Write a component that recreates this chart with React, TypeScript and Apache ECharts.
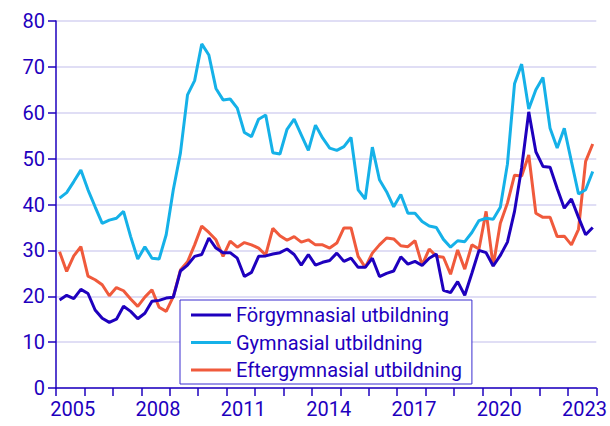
import React, { useEffect, useRef } from "react";
import * as echarts from "echarts";

const years = ["2005","2006","2007","2008","2009","2010","2011","2012","2013","2014","2015","2016","2017","2018","2019","2020","2021","2022","2023"];
const quarters: string[] = years.flatMap((y) => ["K1", "K2", "K3", "K4"].map((q) => y + q));

const forgymnasial = [
  19.2, 20.2, 19.5, 21.5, 20.6, 17.0, 15.2, 14.3, 15.0, 17.8, 16.7, 15.1, 16.3,
  18.9, 19.1, 19.6, 19.8, 25.5, 26.8, 28.7, 29.1, 32.7, 30.5, 29.5, 29.5, 28.3,
  24.3, 25.2, 28.7, 28.8, 29.2, 29.5, 30.3, 29.1, 26.8, 29.1, 26.8, 27.4,
  27.8, 29.4, 27.6, 28.3, 26.3, 26.3, 28.3, 24.3, 25.0, 25.5, 28.6, 27.0, 27.6,
  26.7, 28.3, 29.2, 21.3, 20.8, 23.2, 20.2, 25.0, 30.0, 29.5, 26.6, 28.9,
  31.8, 38.5, 48.0, 60.2, 51.5, 48.3, 48.1, 43.5, 39.2, 41.2, 37.2, 33.4, 35.0,
];
const gymnasial = [
  41.4, 42.6, 45.0, 47.5, 43.2, 39.5, 35.9, 36.6, 37.0, 38.5, 33.0, 28.1, 30.8,
  28.3, 28.1, 33.4, 43.2, 51.2, 63.9, 67.0, 75.0, 72.6, 65.3, 62.8, 63.0, 61.0,
  55.7, 54.8, 58.6, 59.5, 51.3, 51.0, 56.4, 58.6, 55.2, 51.8, 57.3, 54.5,
  52.3, 51.8, 52.6, 54.6, 43.2, 41.2, 52.5, 45.4, 42.8, 39.5, 42.2, 38.1, 38.1,
  36.3, 35.3, 35.0, 32.4, 30.7, 32.1, 31.9, 33.9, 36.5, 37.0, 36.8, 39.4,
  48.8, 66.3, 70.6, 60.8, 65.0, 67.7, 56.6, 52.3, 56.6, 49.4, 42.3, 43.2, 47.2,
];
const eftergymnasial = [
  29.7, 25.4, 28.8, 30.8, 24.4, 23.6, 22.5, 20.1, 21.9, 21.2, 19.4, 17.8, 19.8,
  21.4, 17.6, 16.7, 19.9, 25.7, 27.5, 31.2, 35.3, 33.9, 32.3, 28.7, 32.0, 30.7,
  31.7, 31.2, 30.5, 29.0, 34.8, 33.2, 32.2, 33.0, 31.8, 32.3, 31.2, 31.2,
  30.5, 31.6, 34.9, 34.9, 28.7, 26.3, 29.4, 31.2, 32.7, 32.5, 31.0, 30.8, 32.1,
  26.8, 30.3, 28.7, 28.5, 24.8, 30.1, 25.9, 31.2, 30.3, 38.5, 26.6, 35.9,
  40.3, 46.4, 46.2, 50.8, 38.1, 37.2, 37.2, 33.0, 33.1, 31.2, 34.6, 49.4, 53.2,
];

const seriesNames = ["Förgymnasial utbildning", "Gymnasial utbildning", "Eftergymnasial utbildning"];
const seriesData = [forgymnasial, gymnasial, eftergymnasial];
const colors = ["#1e00be", "#15b1e8", "#f05a3c"];
const textColor = "#1e00be";
const font = "Roboto";

export default function App() {
  const ref = useRef<HTMLDivElement>(null);
  useEffect(() => {
    if (!ref.current) return;
    const chart = echarts.init(ref.current, undefined, { renderer: "svg" });
    chart.setOption({
      animation: false,
      color: colors,
      grid: { left: 56, right: 12, top: 21, bottom: 38, containLabel: false },
      legend: {
        orient: "vertical",
        left: 180,
        top: 300,
        padding: [4, 10, 3, 11],
        itemGap: 5.5,
        itemWidth: 40,
        itemHeight: 3,
        icon: "rect",
        borderColor: "#3a2cd0",
        borderWidth: 1,
        backgroundColor: "#ffffff",
        borderRadius: 0,
        textStyle: { color: textColor, fontSize: 20, fontFamily: font, lineHeight: 22 },
        data: seriesNames,
      },
      xAxis: [
        {
          type: "category",
          data: quarters,
          boundaryGap: true,
          axisLine: { show: true, lineStyle: { color: textColor, width: 1.5 } },
          axisTick: { show: false },
          axisLabel: { show: false },
          splitLine: { show: false },
        },
        {
          type: "category",
          data: years,
          position: "bottom",
          boundaryGap: true,
          axisLine: { show: false },
          axisTick: { show: true, interval: 0, length: 8, lineStyle: { color: textColor, width: 1.5 } },
          axisLabel: {
            interval: 2,
            color: textColor,
            fontSize: 20,
            fontFamily: font,
            margin: 11,
            padding: [0, 0, 0, 5],
          },
          splitLine: { show: false },
        },
      ],
      yAxis: {
        type: "value",
        min: 0,
        max: 80,
        interval: 10,
        axisLine: { show: true, lineStyle: { color: textColor, width: 1.5 } },
        axisTick: { show: true, length: 8, lineStyle: { color: textColor, width: 1.5 } },
        axisLabel: { color: textColor, fontSize: 20, fontFamily: font, margin: 11 },
        splitLine: { show: true, lineStyle: { color: "#d6d3f2", width: 1.5 } },
      },
      series: seriesNames.map((name, i) => ({
        name,
        type: "line",
        xAxisIndex: 0,
        data: seriesData[i],
        showSymbol: false,
        symbol: "none",
        lineStyle: { width: 3, color: colors[i] },
        itemStyle: { color: colors[i] },
        z: 3 - i,
      })),
    });
    return () => chart.dispose();
  }, []);
  return <div ref={ref} style={{ width: 610, height: 426, position: "absolute", left: 0, top: 0 }} />;
}
